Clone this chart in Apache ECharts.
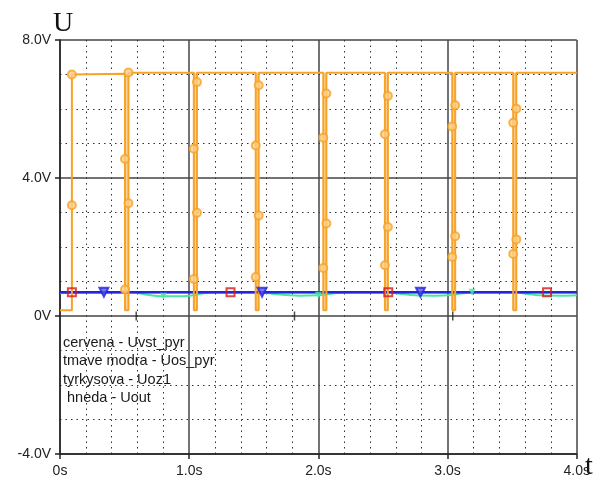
<!DOCTYPE html>
<html>
<head>
<meta charset="utf-8">
<script src="https://cdn.jsdelivr.net/npm/echarts@6/dist/echarts.min.js"></script>
<style>html,body{margin:0;padding:0;background:#fff}#c{width:593px;height:478px}</style>
</head>
<body>
<div id="c"></div>
<script>
// ---- data ----
const xTicks = [0, 1, 2, 3, 4];            // s
const yTicks = [-4, 0, 4, 8];              // V
const legendLines = ['cervena - Uvst_pyr', 'tmave modra - Uos_pyr', 'tyrkysova - Uoz1', ' hneda - Uout'];

// hneda - Uout (orange) trace
const uoutT = [0, 0.092, 0.092, 0.503, 0.503, 0.530, 0.530, 1.036, 1.036, 1.060, 1.060, 1.515, 1.515, 1.538, 1.538,
               2.038, 2.038, 2.062, 2.062, 2.515, 2.515, 2.538, 2.538, 3.036, 3.036, 3.059, 3.059, 3.508, 3.508, 3.532, 3.532, 4.0];
const uoutV = [0.17, 0.17, 7.0, 7.02, 0.17, 0.17, 7.05, 7.05, 0.17, 0.17, 7.05, 7.05, 0.17, 0.17, 7.05,
               7.05, 0.17, 0.17, 7.05, 7.05, 0.17, 0.17, 7.05, 7.05, 0.17, 0.17, 7.05, 7.05, 0.17, 0.17, 7.05, 7.05];
// short drop intervals of Uout (start, end)
const dropStart = [0.503, 1.036, 1.515, 2.038, 2.515, 3.036, 3.508];
const dropEnd   = [0.530, 1.060, 1.538, 2.062, 2.538, 3.059, 3.532];
// circle markers on Uout
const uoutMarkT = [0.092, 0.092, 0.530, 0.503, 0.530, 0.503, 1.060, 1.036, 1.060, 1.036, 1.538, 1.515, 1.538, 1.515,
                   2.062, 2.038, 2.062, 2.038, 2.538, 2.515, 2.538, 2.515, 3.059, 3.036, 3.059, 3.036, 3.532, 3.508, 3.532, 3.508];
const uoutMarkV = [7.0, 3.21, 7.06, 4.55, 3.27, 0.77, 6.78, 4.85, 2.99, 1.07, 6.69, 4.94, 2.91, 1.13,
                   6.45, 5.17, 2.68, 1.39, 6.38, 5.27, 2.58, 1.47, 6.11, 5.49, 2.31, 1.71, 6.01, 5.6, 2.22, 1.8];

// cervena - Uvst_pyr (red)
const uvstT = [0, 4.0];
const uvstV = [0.69, 0.69];
const uvstMarkT = [0.092, 1.32, 2.541, 3.77];
const uvstMarkV = [0.69, 0.69, 0.69, 0.69];

// tmave modra - Uos_pyr (blue)
const uosT = [0, 4.0];
const uosV = [0.69, 0.69];
const uosMarkT = [0.34, 1.564, 2.79];
const uosMarkV = [0.69, 0.69, 0.69];

// tyrkysova - Uoz1 (turquoise)
const uozT = [0, 0.09, 0.2, 0.5, 0.56, 0.65, 0.8, 0.95, 1.03, 1.1, 1.2, 1.53, 1.6, 1.7, 1.85, 2.0, 2.06, 2.15, 2.3,
              2.55, 2.62, 2.75, 2.9, 3.03, 3.1, 3.2, 3.53, 3.6, 3.72, 3.9, 4.0];
const uozV = [0.66, 0.67, 0.69, 0.69, 0.69, 0.63, 0.57, 0.57, 0.6, 0.65, 0.69, 0.69, 0.67, 0.62, 0.59, 0.6, 0.62, 0.67, 0.69,
              0.69, 0.65, 0.6, 0.59, 0.61, 0.65, 0.69, 0.69, 0.65, 0.6, 0.59, 0.6];
const uozMarkT = [0.8, 2.0, 3.19];
const uozMarkV = [0.57, 0.6, 0.69];

// small cursor ticks on the 0V line
const cursorT = [0.59, 1.815, 3.04];

// ---- build chart ----
const zip = (a, b) => a.map((v, i) => [v, b[i]]);
const ORANGE = '#f7a228', BLUE = '#2424dc', RED = '#d81818', CYAN = '#44e8a4';
const sans = 'Liberation Sans, Arial, sans-serif';
const serif = 'Liberation Serif, Times New Roman, serif';

const chart = echarts.init(document.getElementById('c'), null, {renderer: 'canvas'});
chart.setOption({
  animation: false,
  backgroundColor: '#fff',
  grid: {left: 60, right: 14, top: 40, bottom: 20, containLabel: false},
  xAxis: {
    type: 'value', min: xTicks[0], max: xTicks[xTicks.length - 1], interval: 1,
    axisLine: {show: true, onZero: false, lineStyle: {color: '#222', width: 1.5}},
    axisTick: {show: true, length: 5, lineStyle: {color: '#222', width: 1.5}},
    axisLabel: {margin: 10, fontFamily: sans, fontSize: 14, color: '#222',
      formatter: v => v === 0 ? '0s' : v.toFixed(1) + 's'},
    splitLine: {show: true, lineStyle: {color: '#444', width: 1.5}},
    minorTick: {show: false, splitNumber: 5},
    minorSplitLine: {show: true, lineStyle: {color: '#333', width: 1, type: [1.5, 4]}}
  },
  yAxis: {
    type: 'value', min: yTicks[0], max: yTicks[yTicks.length - 1], interval: 4,
    axisLine: {show: true, onZero: false, lineStyle: {color: '#222', width: 1.5}},
    axisTick: {show: true, length: 5, lineStyle: {color: '#222', width: 1.5}},
    axisLabel: {margin: 9, fontFamily: sans, fontSize: 14, color: '#222',
      formatter: v => v === 0 ? '0V' : v.toFixed(1) + 'V'},
    splitLine: {show: true, lineStyle: {color: '#444', width: 1.5}},
    minorTick: {show: false, splitNumber: 4},
    minorSplitLine: {show: true, lineStyle: {color: '#333', width: 1, type: [1.5, 4]}}
  },
  graphic: [
    {type: 'text', left: 53, top: 10, style: {text: 'U', font: '28px ' + serif, fill: '#111'}},
    {type: 'text', left: 585, top: 453, style: {text: 't', font: '28px ' + serif, fill: '#111'}},
    ...legendLines.map((s, i) => ({type: 'text', left: 63, top: 335 + i * 18.5,
      style: {text: s, font: '14.5px ' + sans, fill: '#1a1a1a', whiteSpace: 'pre'}}))
  ],
  series: [
    {type: 'line', data: zip(uozT, uozV), smooth: 0.3, showSymbol: false, lineStyle: {color: CYAN, width: 2}, z: 3},
    {type: 'line', data: zip(uvstT, uvstV), showSymbol: false, lineStyle: {color: RED, width: 2}, z: 3},
    {type: 'line', data: zip(uosT, uosV), showSymbol: false, lineStyle: {color: BLUE, width: 2.5}, z: 4},
    {type: 'line', data: zip(uoutT, uoutV), showSymbol: false, lineStyle: {color: ORANGE, width: 2}, z: 5,
      markArea: {silent: true, itemStyle: {color: '#fbd49a'},
        data: dropStart.map((s, i) => [{xAxis: s, yAxis: 0.17}, {xAxis: dropEnd[i], yAxis: 7.05}])}},
    {type: 'scatter', data: zip(uoutMarkT, uoutMarkV), symbol: 'circle', symbolSize: 8,
      itemStyle: {color: '#fbd08a', borderColor: ORANGE, borderWidth: 2}, z: 6},
    {type: 'scatter', data: zip(uozMarkT, uozMarkV), symbol: 'triangle', symbolRotate: 180, symbolSize: 7,
      itemStyle: {color: CYAN}, z: 6},
    {type: 'scatter', data: zip(uosMarkT, uosMarkV), symbol: 'triangle', symbolRotate: 180, symbolSize: 9,
      itemStyle: {color: '#5a5aee', borderColor: BLUE, borderWidth: 2}, z: 7},
    {type: 'scatter', data: zip(uvstMarkT, uvstMarkV), symbol: 'rect', symbolSize: 8,
      itemStyle: {color: 'rgba(255,255,255,0)', borderColor: RED, borderWidth: 2}, z: 8},
    {type: 'scatter', data: cursorT.map(t => [t, 0]), symbol: 'rect', symbolSize: [1.5, 9],
      itemStyle: {color: '#222'}, z: 8}
  ]
});
</script>
</body>
</html>
